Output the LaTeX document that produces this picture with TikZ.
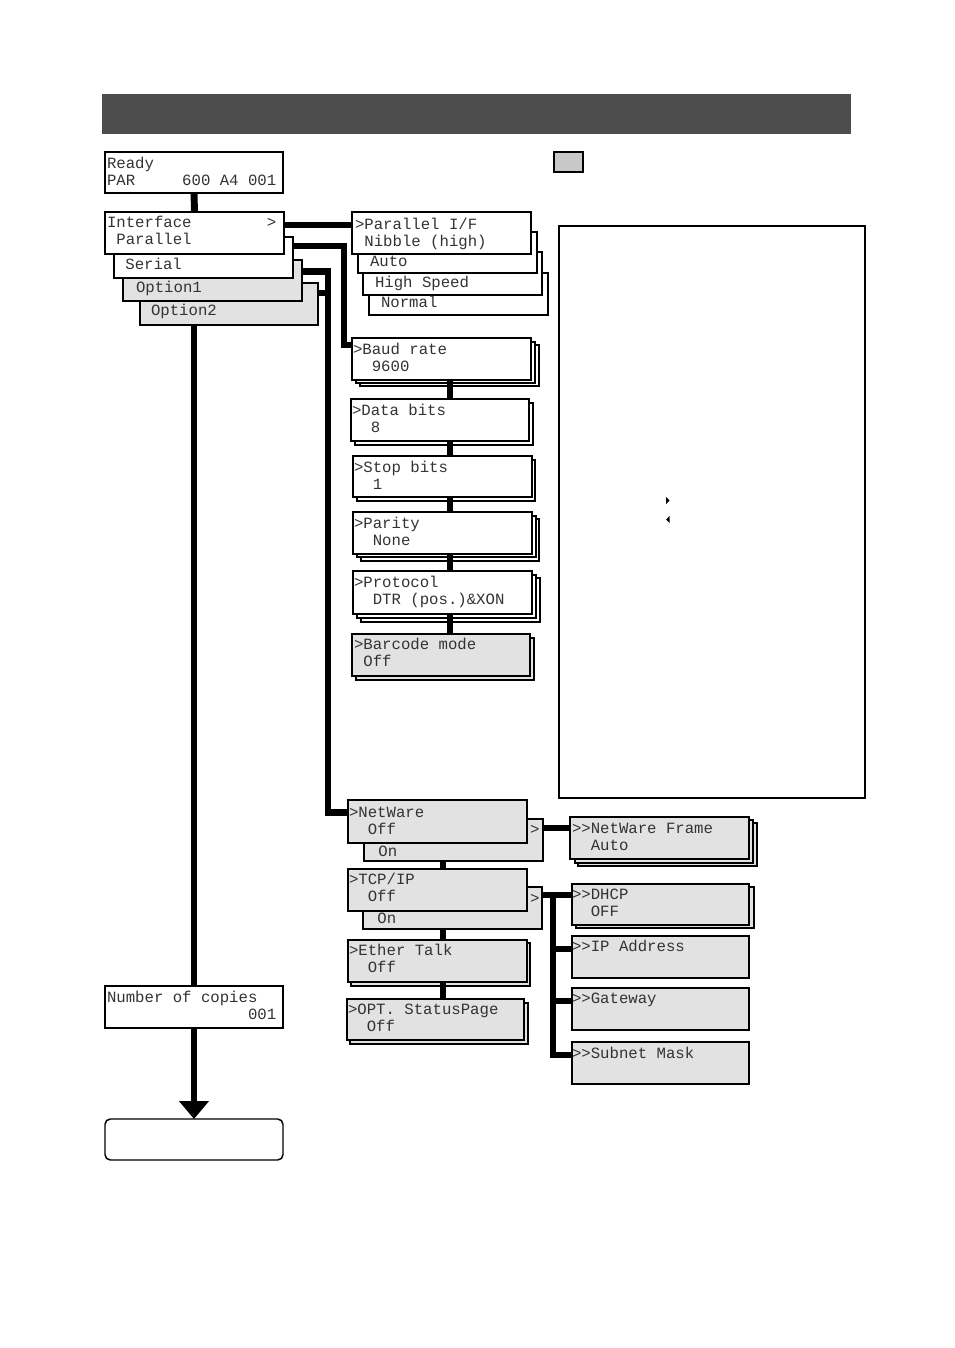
\documentclass[tikz,border=0pt]{standalone}
\usepackage{fontspec}
\newfontfamily\lcdfont{Liberation Mono}
\usetikzlibrary{arrows.meta}
\definecolor{lcdgray}{RGB}{226,226,226}
\definecolor{hdr}{RGB}{77,77,77}
\definecolor{leg}{RGB}{200,200,200}
\tikzset{
  lcd/.style={draw, rectangle, line width=1.4pt, fill=white, inner sep=0, outer sep=0},
  lcdb/.style={lcd, line width=1.1pt},
  lcdg/.style={lcd, fill=lcdgray},
  lcdgb/.style={lcdb, fill=lcdgray},
  lcdr/.style={lcd, line width=1.1pt, rounded corners=4pt},
  panel/.style={draw, rectangle, line width=1.1pt, inner sep=0, outer sep=0},
  conn/.style={line width=5.2pt},
  txt/.style={font=\lcdfont\fontsize{11.75pt}{12.75pt}\selectfont, text=black!80, align=left, anchor=north west, inner sep=0, outer sep=0},
}
\newcommand\bx[6]{\node[#2, minimum width={(#5-#3)*0.75pt}, minimum height={(#6-#4)*0.75pt}] (#1) at ({(#3+#5)/2},{(#4+#6)/2}) {};}
\newcommand\tx[4]{\node[txt] (#1) at (#2+1,#3-8.33) {\rule{0pt}{10pt}#4};}
\begin{document}
\begin{tikzpicture}[x=0.75pt,y=-0.75pt]
\useasboundingbox (0,0) rectangle (954,1348);
\fill[hdr] (102,94) rectangle (851,134);
\draw[line width=1.5pt, fill=leg] (553.5,152.5) rectangle (582.5,172.5);
\bx{info}{panel}{559}{226}{865}{798}
\fill (666,497) -- (669.5,500.5) -- (666,504) -- cycle;
\fill (669.5,516) -- (666,519.5) -- (669.5,523) -- cycle;
% left stack
\bx{ready}{lcd}{105}{152}{283}{193}
\bx{opt2}{lcdgb}{140}{283}{318}{325}
\bx{opt1}{lcdgb}{123}{260}{302}{301}
\bx{serial}{lcdb}{114}{237}{293}{278}
\bx{iface}{lcd}{105}{212}{284}{254}
\bx{copies}{lcd}{105}{986}{283}{1028}
\bx{final}{lcdr}{105}{1119}{283}{1160}
% parallel stack
\bx{normal}{lcdb}{369}{273}{548}{315}
\bx{high}{lcd}{363}{252}{542}{295}
\bx{pauto}{lcd}{358}{232}{537}{273}
\bx{par}{lcd}{352}{212}{531}{254}
% serial column
\bx{bauds2}{lcdb}{360}{345}{539}{386}
\bx{bauds1}{lcdb}{356}{342}{535}{383}
\bx{baud}{lcd}{352}{338}{531}{380}
\bx{datas}{lcdb}{355}{403}{533}{445}
\bx{data}{lcd}{351}{399}{529}{441}
\bx{stops}{lcdb}{357}{460}{535}{501}
\bx{stop}{lcd}{353}{456}{532}{497}
\bx{pars2}{lcdb}{361}{519}{539}{561}
\bx{pars1}{lcdb}{357}{516}{536}{557}
\bx{parity}{lcd}{353}{512}{532}{554}
\bx{prots2}{lcdb}{361}{578}{540}{622}
\bx{prots1}{lcdb}{357}{575}{536}{618}
\bx{prot}{lcd}{353}{571}{532}{614}
\bx{bars}{lcdgb}{356}{638}{534}{680}
\bx{bar}{lcdg}{352}{634}{530}{676}
% network column
\bx{nwon}{lcdgb}{364}{819}{543}{861}
\bx{nw}{lcdg}{348}{800}{527}{843}
\bx{tcpon}{lcdgb}{363}{887}{542}{929}
\bx{tcp}{lcdg}{348}{869}{527}{911}
\bx{eths}{lcdgb}{351}{943}{530}{986}
\bx{eth}{lcdg}{348}{940}{527}{982}
\bx{opts}{lcdgb}{350}{1003}{528}{1044}
\bx{optp}{lcdg}{347}{999}{524}{1040}
\bx{nwfs2}{lcdgb}{578}{823}{757}{866}
\bx{nwfs1}{lcdgb}{575}{820}{753}{863}
\bx{nwf}{lcdg}{570}{817}{749}{859}
\bx{dhcps}{lcdgb}{576}{887}{754}{928}
\bx{dhcp}{lcdg}{572}{884}{749}{925}
\bx{ip}{lcdg}{572}{936}{749}{978}
\bx{gw}{lcdg}{572}{988}{749}{1030}
\bx{subnet}{lcdg}{572}{1042}{749}{1084}
% helper coordinates
\coordinate (sv) at (344,300);
\coordinate (ov) at (328,500);
\coordinate (sx) at (450,0);
\coordinate (nx) at (443,0);
\coordinate (tv) at (553,0);
% connectors
\draw[conn] (ready.south) -- (iface.north);
\draw[conn] (ready.south |- opt2.south) -- (copies.north);
\draw[conn, -{Triangle[length=13.5pt, width=21.75pt]}] (copies.south) -- (final.north);
\draw[conn] ([yshift=6pt]iface.east) -- ([yshift=6pt]iface.east -| par.west);
\draw[conn] ([yshift=8.6pt]serial.east) -| (sv) |- ([yshift=10.5pt]baud.west);
\draw[conn] ([yshift=7.1pt]opt1.east) -| (ov) |- ([yshift=7.1pt]nw.west);
\draw[conn] ([yshift=8.25pt]opt2.east) -- ([yshift=8.25pt]opt2.east -| ov);
\draw[conn] (baud.south -| sx) -- (data.north -| sx);
\draw[conn] (data.south -| sx) -- (stop.north -| sx);
\draw[conn] (stop.south -| sx) -- (parity.north -| sx);
\draw[conn] (parity.south -| sx) -- (prot.north -| sx);
\draw[conn] (prot.south -| sx) -- (bar.north -| sx);
\draw[conn] (nwon.south -| nx) -- (tcp.north -| nx);
\draw[conn] (tcpon.south -| nx) -- (eth.north -| nx);
\draw[conn] (eth.south -| nx) -- (optp.north -| nx);
\draw[conn] ([yshift=9pt]nwon.east) -- ([yshift=9pt]nwon.east -| nwf.west);
\draw[conn] ([yshift=9.75pt]tcpon.east) -- ([yshift=9.75pt]tcpon.east -| dhcp.west);
\draw[conn] ([yshift=9.75pt]tcpon.east -| tv) |- ([yshift=6pt]subnet.west);
\draw[conn] ([yshift=6pt]ip.west -| tv) -- ([yshift=6pt]ip.west);
\draw[conn] ([yshift=6pt]gw.west -| tv) -- ([yshift=6pt]gw.west);
% texts
\tx{t-ready}{106}{163}{Ready\\PAR~~~~~600~A4~001}
\tx{t-iface}{106}{222}{Interface~~~~~~~~>\\~Parallel}
\tx{t-serial}{115}{264}{~Serial}
\tx{t-opt1}{125.6}{287}{~Option1}
\tx{t-opt2}{140.6}{310}{~Option2}
\tx{t-par}{354}{224}{>Parallel~I/F\\~Nibble~(high)}
\tx{t-auto}{359.6}{261}{~Auto}
\tx{t-high}{364.6}{282}{~High~Speed}
\tx{t-normal}{370.6}{302}{~Normal}
\tx{t-baud}{352}{349}{>Baud~rate\\~~9600}
\tx{t-data}{351}{410}{>Data~bits\\~~8}
\tx{t-stop}{353}{467}{>Stop~bits\\~~1}
\tx{t-parity}{353}{523}{>Parity\\~~None}
\tx{t-prot}{353}{582}{>Protocol\\~~DTR~(pos.)\&XON}
\tx{t-bar}{353}{644}{>Barcode~mode\\~Off}
\tx{t-nw}{348}{812}{>NetWare\\~~Off}
\tx{t-nwa}{529}{829}{>}
\tx{t-nwon}{368}{851}{~On}
\tx{t-tcp}{348}{879}{>TCP/IP\\~~Off}
\tx{t-tcpa}{529}{898}{>}
\tx{t-tcpon}{367}{918}{~On}
\tx{t-eth}{348}{950}{>Ether~Talk\\~~Off}
\tx{t-optp}{347}{1009}{>OPT.~StatusPage\\~~Off}
\tx{t-nwf}{571}{828}{>>NetWare~Frame\\~~Auto}
\tx{t-dhcp}{571}{894}{>>DHCP\\~~OFF}
\tx{t-ip}{571}{946}{>>IP~Address}
\tx{t-gw}{571}{998}{>>Gateway}
\tx{t-subnet}{571}{1053}{>>Subnet~Mask}
\tx{t-copies}{106}{997}{Number~of~copies\\~~~~~~~~~~~~~~~001}
\end{tikzpicture}
\end{document}
